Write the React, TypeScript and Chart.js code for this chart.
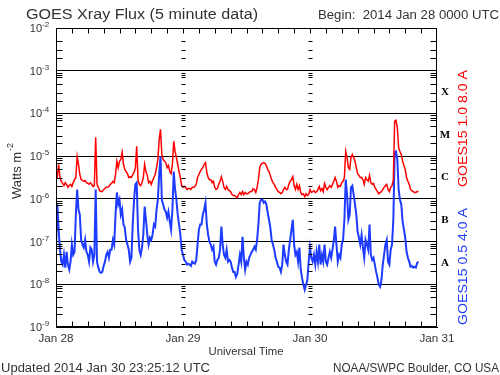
import React, { useEffect, useRef } from "react";
import { Chart, registerables } from "chart.js";

Chart.register(...registerables);

// ---- data (log10 of flux, W m^-2), one reading every 15 minutes from 2014 Jan 28 00:00 UTC ----
const STEP_HOURS = 0.25;
const TOTAL_HOURS = 72;
const TICK_STEP_HOURS = 3;

const longLog = [
  -5.55, -5.5, -5.19, -5.5, -5.59, -5.64, -5.69, -5.62, -5.66, -5.73,
  -5.69, -5.66, -5.71, -5.62, -5.55, -5.5, -5.01, -5.19, -5.43, -5.55,
  -5.57, -5.59, -5.57, -5.62, -5.64, -5.66, -5.62, -5.66, -5.71, -5.69,
  -4.56, -5.66, -5.73, -5.81, -5.83, -5.83, -5.78, -5.76, -5.73, -5.73,
  -5.71, -5.66, -5.64, -5.59, -5.62, -5.43, -5.12, -5.27, -5.12, -5.08,
  -4.91, -5.19, -5.31, -5.36, -5.41, -5.5, -5.48, -5.5, -5.43, -5.38,
  -5.27, -4.77, -5.55, -5.66, -5.69, -5.62, -5.5, -5.19, -5.36, -5.45,
  -5.62, -5.59, -5.66, -5.57, -5.5, -5.43, -5.27, -5.08, -4.61, -4.37,
  -4.96, -5.08, -5.12, -5.15, -5.27, -5.22, -5.36, -5.41, -5.19, -4.65,
  -4.89, -5.03, -5.19, -5.36, -5.5, -5.69, -5.73, -5.71, -5.73, -5.78,
  -5.76, -5.76, -5.78, -5.73, -5.73, -5.71, -5.66, -5.5, -5.43, -5.36,
  -5.31, -5.27, -5.19, -5.15, -5.38, -5.5, -5.55, -5.55, -5.62, -5.59,
  -5.73, -5.78, -5.76, -5.66, -5.59, -5.48, -5.59, -5.73, -5.78, -5.71,
  -5.78, -5.81, -5.83, -5.9, -5.92, -5.92, -5.95, -5.97, -5.9, -5.85,
  -5.9, -5.83, -5.9, -5.85, -5.88, -5.88, -5.85, -5.83, -5.83, -5.76,
  -5.78, -5.85, -5.73, -5.55, -5.27, -5.19, -5.17, -5.15, -5.17, -5.22,
  -5.31, -5.36, -5.45, -5.55, -5.62, -5.66, -5.73, -5.78, -5.83, -5.85,
  -5.88, -5.85, -5.78, -5.73, -5.78, -5.78, -5.66, -5.59, -5.55, -5.48,
  -5.69, -5.78, -5.66, -5.78, -5.69, -5.85, -5.9, -5.88, -5.95, -5.88,
  -5.92, -5.9, -5.78, -5.85, -5.83, -5.81, -5.85, -5.83, -5.78, -5.71,
  -5.81, -5.76, -5.83, -5.64, -5.73, -5.78, -5.73, -5.69, -5.73, -5.66,
  -5.59, -5.5, -5.59, -5.73, -5.69, -5.71, -5.62, -5.59, -5.5, -4.89,
  -5.03, -5.27, -5.31, -5.03, -4.96, -5.03, -5.12, -5.27, -5.41, -5.45,
  -5.5, -5.5, -5.55, -5.66, -5.5, -5.55, -5.59, -5.45, -5.62, -5.66,
  -5.64, -5.73, -5.78, -5.83, -5.88, -5.85, -5.83, -5.78, -5.73, -5.69,
  -5.66, -5.78, -5.83, -5.73, -5.69, -5.55, -4.18, -4.16, -4.33, -4.8,
  -4.89, -4.96, -5.12, -5.22, -5.31, -5.5, -5.59, -5.66, -5.78, -5.81,
  -5.83, -5.85, -5.85, -5.83, -5.83,
];

const shortLog = [
  -7.12, -6.13, -6.72, -7.19, -7.47, -7.54, -7.31, -7.61, -7.24, -7.54,
  -7.66, -7.47, -7.07, -7.31, -7.24, -6.37, -5.78, -6.25, -6.37, -6.96,
  -7.07, -7.14, -6.96, -7.24, -7.31, -7.47, -7.14, -7.19, -7.47, -7.31,
  -5.78, -7.47, -7.61, -7.71, -7.73, -7.71, -7.57, -7.47, -7.31, -7.24,
  -7.38, -7.19, -7.19, -6.96, -7.07, -6.37, -5.85, -6.13, -6.02, -6.37,
  -6.25, -6.6, -6.67, -6.96, -7.07, -7.19, -7.47, -7.38, -6.6, -6.02,
  -5.66, -5.62, -6.72, -7.19, -7.31, -7.14, -6.84, -6.18, -6.49, -6.84,
  -7.07, -6.91, -6.96, -6.84, -6.6, -6.65, -6.25, -6.02, -5.43, -5.01,
  -6.02, -6.13, -6.25, -6.3, -6.44, -6.3, -6.53, -6.72, -6.25, -5.36,
  -5.78, -6.02, -6.37, -6.6, -6.84, -7.19, -7.31, -7.43, -7.47, -7.54,
  -7.52, -7.54, -7.57, -7.47, -7.5, -7.52, -7.43, -7.07, -6.72, -6.6,
  -6.6, -6.37, -6.25, -6.09, -6.6, -6.84, -7.0, -7.07, -7.19, -7.12,
  -7.47, -7.54, -7.43, -7.38, -7.19, -6.65, -7.07, -7.31, -7.38, -7.19,
  -7.47, -7.43, -7.47, -7.61, -7.71, -7.71, -7.83, -7.76, -7.54, -7.31,
  -7.47, -6.89, -7.38, -7.66, -7.47, -7.54, -7.38, -7.31, -7.24, -7.19,
  -7.12, -7.19, -6.96, -6.6, -6.09, -6.02, -6.02, -6.09, -6.06, -6.13,
  -6.32, -6.49, -6.67, -6.96, -7.07, -7.19, -7.38, -7.47, -7.59, -7.61,
  -7.71, -7.54, -7.07, -7.31, -7.47, -7.54, -7.19, -6.96, -6.72, -6.49,
  -7.07, -7.31, -7.24, -7.47, -7.14, -7.66, -7.85, -8.01, -8.13, -8.01,
  -7.9, -7.47, -7.14, -7.38, -7.47, -7.31, -7.54, -7.24, -7.47, -7.07,
  -7.54, -7.31, -7.47, -7.07, -7.47, -7.54, -7.38, -7.24, -7.38, -7.19,
  -6.96, -6.65, -7.07, -7.47, -7.31, -7.38, -7.07, -6.96, -6.49, -5.55,
  -5.9, -6.49, -6.37, -5.73, -5.69, -5.9, -6.13, -6.37, -6.77, -6.91,
  -7.07, -6.84, -7.14, -7.38, -6.96, -7.07, -7.19, -6.6, -7.31, -7.43,
  -7.38, -7.54, -7.71, -7.85, -8.01, -8.06, -7.9, -7.54, -7.31, -7.07,
  -6.96, -7.47, -7.54, -7.19, -7.07, -6.49, -4.91, -4.89, -5.08, -5.78,
  -6.02, -6.13, -6.53, -6.72, -6.91, -7.24, -7.38, -7.47, -7.59, -7.57,
  -7.61, -7.59, -7.61, -7.5, -7.47,
];

const dayLabels = ["Jan 28", "Jan 29", "Jan 30", "Jan 31"];
const dayHours = [0, 24, 48, 72];
const decadeExponents = [-2, -3, -4, -5, -6, -7, -8, -9];
const minorMantissas = [2, 3, 5, 7, 8, 9];
const flareLetters = ["X", "M", "C", "B", "A"];
const flareExponents = [-4, -5, -6, -7, -8];

const titleText = "GOES Xray Flux (5 minute data)";
const beginText = "Begin:  2014 Jan 28 0000 UTC";
const updatedText = "Updated 2014 Jan 30 23:25:12 UTC";
const creditText = "NOAA/SWPC Boulder, CO USA";
const xTitle = "Universal Time";
const longLabel = "GOES15 1.0 8.0 A";
const shortLabel = "GOES15 0.5 4.0 A";

const RED = "#ff0000";
const BLUE = "#1e3cff";
const TEXT = "#333";
const FONT = "'Liberation Sans', 'DejaVu Sans', sans-serif";

function fitText(
  ctx: CanvasRenderingContext2D,
  text: string,
  x: number,
  y: number,
  width: number,
  size: number,
  align: "left" | "center" | "right",
  color: string,
  rotate = false
) {
  ctx.save();
  ctx.font = `${size}px ${FONT}`;
  ctx.fillStyle = color;
  ctx.textBaseline = "alphabetic";
  ctx.textAlign = "left";
  const w = ctx.measureText(text).width;
  const sx = width / w;
  ctx.translate(x, y);
  if (rotate) ctx.rotate(-Math.PI / 2);
  ctx.scale(sx, 1);
  let ox = 0;
  if (align === "center") ox = -w / 2;
  if (align === "right") ox = -w;
  ctx.fillText(text, ox, 0);
  ctx.restore();
}

const overlay = {
  id: "goesOverlay",
  beforeDraw(chart: any) {
    const ctx = chart.ctx;
    ctx.save();
    ctx.fillStyle = "#fff";
    ctx.fillRect(0, 0, chart.width, chart.height);
    ctx.restore();
  },
  afterDraw(chart: any) {
    const { ctx, chartArea: a, scales } = chart;
    const xs = scales.x;
    const ys = scales.y;
    ctx.save();
    ctx.strokeStyle = "#000";
    ctx.lineWidth = 1;
    const L = Math.round(a.left) + 0.5;
    const R = Math.round(a.right) - 0.5;
    const T = Math.round(a.top) + 0.5;
    const B = Math.round(a.bottom) - 0.5;
    ctx.beginPath();
    ctx.rect(L, T, R - L, B - T);
    ctx.stroke();

    const inner = dayHours.slice(1, -1).map((h) => Math.round(xs.getPixelForValue(h)) + 0.5);
    ctx.beginPath();
    for (let k = -9; k < -2; k++) {
      for (const m of minorMantissas) {
        if (k === -3 && m >= 7) continue;
        const py = Math.round(ys.getPixelForValue(m * Math.pow(10, k))) + 0.5;
        ctx.moveTo(L, py);
        ctx.lineTo(L + 6, py);
        ctx.moveTo(R, py);
        ctx.lineTo(R - 6, py);
        for (const px of inner) {
          ctx.moveTo(px - 2, py);
          ctx.lineTo(px + 2, py);
        }
      }
    }
    for (let h = TICK_STEP_HOURS; h < TOTAL_HOURS; h += TICK_STEP_HOURS) {
      const px = Math.round(xs.getPixelForValue(h)) + 0.5;
      ctx.moveTo(px, T);
      ctx.lineTo(px, T + 5);
      ctx.moveTo(px, B);
      ctx.lineTo(px, B - 5);
    }
    ctx.stroke();

    // y decade labels
    for (const e of decadeExponents) {
      const py = ys.getPixelForValue(Math.pow(10, e));
      ctx.fillStyle = TEXT;
      ctx.font = `11px ${FONT}`;
      ctx.textAlign = "right";
      ctx.textBaseline = "alphabetic";
      ctx.fillText("10", 42, py + 4);
      ctx.font = `8px ${FONT}`;
      ctx.textAlign = "left";
      ctx.fillText(String(e), 42, py - 1);
    }

    // flare class letters
    ctx.font = `bold 11px 'Liberation Serif', 'DejaVu Serif', serif`;
    ctx.textAlign = "center";
    ctx.textBaseline = "middle";
    ctx.fillStyle = "#000";
    flareLetters.forEach((c, i) => {
      const py = ys.getPixelForValue(Math.pow(10, flareExponents[i] + 0.5));
      ctx.fillText(c, 445, py);
    });

    // day labels
    dayLabels.forEach((d, i) => {
      const px = xs.getPixelForValue(dayHours[i]);
      fitText(ctx, d, px, 342, 35, 11, "center", TEXT);
    });

    fitText(ctx, xTitle, 246, 355, 75, 11, "center", TEXT);
    fitText(ctx, titleText, 26, 19, 232, 14, "left", TEXT);
    fitText(ctx, beginText, 318, 19, 181, 12, "left", TEXT);
    fitText(ctx, updatedText, 1, 372, 209, 12, "left", TEXT);
    fitText(ctx, creditText, 499, 372, 166, 12, "right", TEXT);

    // y-axis title (rotated)
    ctx.save();
    ctx.translate(17, 171);
    ctx.rotate(-Math.PI / 2);
    ctx.font = `13px ${FONT}`;
    ctx.fillStyle = TEXT;
    ctx.textAlign = "left";
    const base = "Watts m";
    const wb = ctx.measureText(base).width;
    ctx.font = `9px ${FONT}`;
    const ws = ctx.measureText("-2").width;
    const total = wb + ws + 1;
    ctx.font = `13px ${FONT}`;
    ctx.fillText(base, -total / 2, 0);
    ctx.font = `9px ${FONT}`;
    ctx.fillText("-2", -total / 2 + wb + 1, -6);
    ctx.restore();

    // channel labels (rotated)
    fitText(ctx, longLabel, 467, 128.5, 117, 13, "center", RED, true);
    fitText(ctx, shortLabel, 467, 266.5, 117, 13, "center", BLUE, true);

    ctx.restore();
  },
};

export default function App() {
  const ref = useRef<HTMLCanvasElement | null>(null);

  useEffect(() => {
    document.body.style.margin = "0";
    const canvas = ref.current;
    if (!canvas) return;
    const toPoints = (arr: number[]) =>
      arr.map((v, i) => ({ x: i * STEP_HOURS, y: Math.pow(10, v) }));
    const chart = new Chart(canvas, {
      type: "line",
      data: {
        datasets: [
          {
            label: longLabel,
            data: toPoints(longLog),
            borderColor: RED,
            borderWidth: 1.5,
            pointRadius: 0,
            tension: 0,
            fill: false,
          },
          {
            label: shortLabel,
            data: toPoints(shortLog),
            borderColor: BLUE,
            borderWidth: 2,
            pointRadius: 0,
            tension: 0,
            fill: false,
          },
        ],
      },
      options: {
        responsive: false,
        animation: false,
        events: [],
        layout: { padding: { left: 56, top: 28, right: 63, bottom: 48 } },
        plugins: {
          legend: { display: false },
          title: { display: false },
          tooltip: { enabled: false },
        },
        scales: {
          x: {
            type: "linear",
            min: 0,
            max: TOTAL_HOURS,
            grid: { display: false },
            ticks: { display: false },
            border: { display: true, color: "#000", width: 1 },
            afterFit(s: any) {
              s.height = 0;
            },
          },
          y: {
            type: "logarithmic",
            min: 1e-9,
            max: 1e-2,
            afterBuildTicks(s: any) {
              s.ticks = decadeExponents.map((e) => ({ value: Math.pow(10, e) }));
            },
            grid: { color: "#000", lineWidth: 1, drawTicks: false },
            ticks: { display: false },
            border: { display: true, color: "#000", width: 1 },
            afterFit(s: any) {
              s.width = 0;
            },
          },
        },
      } as any,
      plugins: [overlay],
    });
    return () => chart.destroy();
  }, []);

  return (
    <div style={{ width: 500, height: 375 }}>
      <canvas ref={ref} width={500} height={375} style={{ display: "block" }} />
    </div>
  );
}
